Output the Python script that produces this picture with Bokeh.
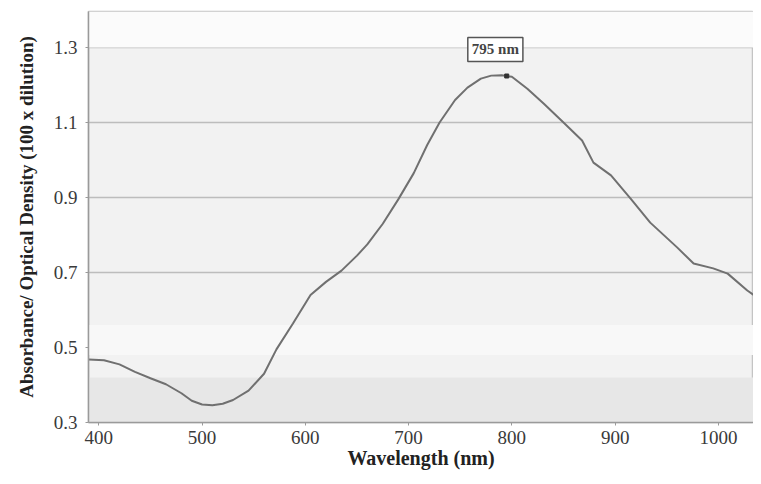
from bokeh.plotting import figure
from bokeh.models import FixedTicker, Label, BoxAnnotation, Range1d, CustomJSTickFormatter
from bokeh.embed import file_html
from bokeh.resources import INLINE

# Data
wavelength_nm = [390, 405, 420, 435, 450, 465, 480, 490, 500, 510, 520, 530, 545, 560,
                 572, 588, 605, 620, 635, 650, 660, 675, 690, 705, 718, 730, 745, 757,
                 770, 780, 790, 800, 815, 831, 850, 868, 879, 896, 915, 934, 960, 976,
                 995, 1009, 1028, 1042]
absorbance = [0.468, 0.466, 0.455, 0.435, 0.418, 0.402, 0.378, 0.358, 0.348, 0.346, 0.350,
              0.360, 0.385, 0.430, 0.495, 0.564, 0.640, 0.675, 0.705, 0.745, 0.775, 0.830,
              0.895, 0.965, 1.040, 1.100, 1.160, 1.193, 1.217, 1.225, 1.226, 1.222, 1.190,
              1.150, 1.100, 1.052, 0.993, 0.959, 0.897, 0.833, 0.767, 0.724, 0.711, 0.697,
              0.652, 0.625]
x_ticks = [400, 500, 600, 700, 800, 900, 1000]
y_ticks = [0.3, 0.5, 0.7, 0.9, 1.1, 1.3]
peak_nm = 795
peak_abs = 1.224
peak_label = "795 nm"

SERIF = "Liberation Serif"

p = figure(width=753, height=476, output_backend="svg", toolbar_location=None,
           x_range=Range1d(390, 1034), y_range=Range1d(0.3, 1.396),
           min_border_left=88, min_border_right=0, min_border_top=11, min_border_bottom=54)

p.background_fill_color = "#f2f2f2"
p.border_fill_color = "white"
p.outline_line_color = "#c4c4c4"
p.outline_line_width = 1.5

# subtle bands of the scanned background
p.add_layout(BoxAnnotation(bottom=1.3, top=1.396, fill_color="#fbfbfb", fill_alpha=1.0, line_alpha=0, level="underlay"))
p.add_layout(BoxAnnotation(bottom=0.48, top=0.56, fill_color="#f8f8f8", fill_alpha=1.0, line_alpha=0, level="underlay"))
p.add_layout(BoxAnnotation(bottom=0.3, top=0.42, fill_color="#e7e7e7", fill_alpha=1.0, line_alpha=0, level="underlay"))

p.line(wavelength_nm, absorbance, line_color="#707070", line_width=2)
p.scatter([peak_nm], [peak_abs], size=4, marker="square", color="#333333")

lbl = Label(x=784, y=1.295, text=peak_label, text_font=SERIF, text_font_style="bold",
            text_font_size="15px", text_align="center", text_baseline="middle",
            border_line_color="#555555", border_line_width=1.5,
            background_fill_color="white", padding=4)
p.add_layout(lbl)

p.xgrid.grid_line_color = None
p.ygrid.grid_line_color = "#bdbdbd"
p.ygrid.grid_line_width = 1.5
p.ygrid.ticker = FixedTicker(ticks=y_ticks)

p.xaxis.ticker = FixedTicker(ticks=x_ticks)
p.yaxis.ticker = FixedTicker(ticks=y_ticks)
p.yaxis.formatter = CustomJSTickFormatter(code="return tick.toFixed(1);")

for ax in (p.xaxis[0], p.yaxis[0]):
    ax.axis_line_color = "#9a9a9a"
    ax.axis_line_width = 1.5
    ax.major_tick_line_color = "#9a9a9a"
    ax.major_tick_in = 0
    ax.major_tick_out = 3
    ax.minor_tick_line_color = None
    ax.major_label_text_font = SERIF
    ax.major_label_text_font_size = "19px"
    ax.major_label_text_color = "#3a3a3a"
    ax.axis_label_text_font = SERIF
    ax.axis_label_text_font_style = "bold"
    ax.axis_label_text_font_size = "20px"
    ax.axis_label_text_color = "#222222"

p.xaxis.major_label_standoff = 5
p.yaxis.major_label_standoff = 8
p.xaxis.axis_label = "Wavelength (nm)"
p.yaxis.axis_label = "Absorbance/ Optical Density (100 x dilution)"
p.xaxis.axis_label_standoff = 0
p.yaxis.axis_label_standoff = 14
p.yaxis.axis_label_text_font_size = "19px"

open("out.html", "w").write(file_html(p, INLINE))
